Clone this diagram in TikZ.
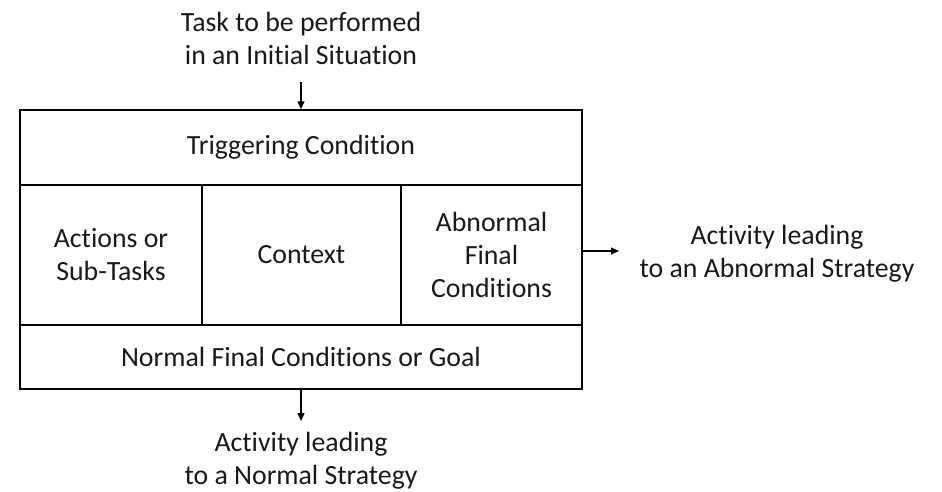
\documentclass[tikz,border=0pt]{standalone}
\usepackage{fontspec}
\setmainfont{Carlito}[Ligatures=NoCommon]
\usetikzlibrary{arrows.meta}
\begin{document}
\begin{tikzpicture}[x=1pt,y=-1pt,
  every node/.style={font=\fontsize{27.8}{33}\selectfont, align=center, text=black!90},
  cell/.style={draw, line width=1.4pt, inner sep=0pt, minimum width=#1},
  flow/.style={line width=1.2pt, -{Triangle[length=8pt,width=7pt]}}]
  \useasboundingbox (0,0) rectangle (942,492);
  % frame cells
  \node[cell=562pt, minimum height=75pt] (trig) at (301,147.5) {Triggering Condition};
  \node[cell=182pt, minimum height=140pt] (act) at (111,255) {Actions or\\Sub-Tasks};
  \node[cell=199pt, minimum height=140pt] (ctx) at (301.5,255) {Context};
  \node[cell=181pt, minimum height=140pt] (abn) at (491.5,255) {Abnormal\\Final\\Conditions};
  \node[cell=562pt, minimum height=64pt] (goal) at (301,357) {Normal Final Conditions or Goal};
  % outside labels
  \node (task) at (301,38) {Task to be performed\\in an Initial Situation};
  \node (abs) at (777,254) {Activity leading\\to an Abnormal Strategy};
  \node (ns) at (301,461) {Activity leading\\to a Normal Strategy};
  % connectors
  \coordinate (tin) at (301,82);
  \draw[flow] (tin) -- (trig.north);
  \coordinate (aout) at (619,251);
  \draw[flow] (abn.east |- aout) -- (aout);
  \coordinate (nout) at (301,421);
  \draw[flow] (goal.south) -- (nout);
\end{tikzpicture}
\end{document}
